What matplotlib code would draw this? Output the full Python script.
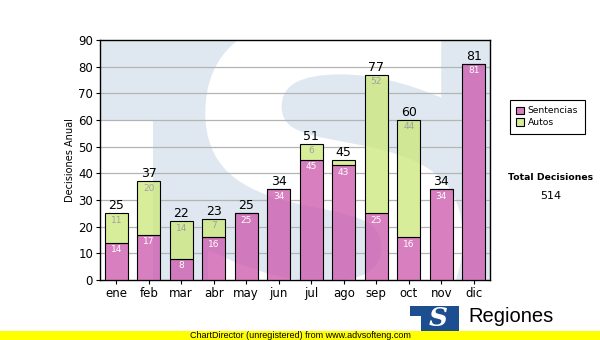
import numpy as np
import matplotlib.pyplot as plt
from matplotlib.patches import Rectangle, PathPatch
from matplotlib.collections import LineCollection
from matplotlib.textpath import TextPath
from matplotlib.font_manager import FontProperties
from matplotlib.transforms import Affine2D

meses = ['ene', 'feb', 'mar', 'abr', 'may', 'jun', 'jul', 'ago', 'sep', 'oct', 'nov', 'dic']
sentencias = [14, 17, 8, 16, 25, 34, 45, 43, 25, 16, 34, 81]
autos = [11, 20, 14, 7, 0, 0, 6, 2, 52, 44, 0, 0]

W, H = 600, 340
rosa = (0.80, 0.33, 0.67, 0.75)
verde = (0.80, 0.91, 0.47, 0.75)


def fx(px):
    return px / W


def fy(py):
    return 1 - py / H


fig = plt.figure(figsize=(6, 3.4), dpi=100)
fig.patch.set_facecolor('white')

ax = fig.add_axes([fx(100), fy(280), fx(490) - fx(100), fy(40) - fy(280)])
ax.set_facecolor('#dfe8f1')

# fondo con el logo "S" en marca de agua
ax.add_patch(Rectangle((0, 0), 53 / 390, 160 / 240, transform=ax.transAxes,
                       facecolor='white', lw=0, zorder=0.1))
tp = TextPath((0, 0), 'S', prop=FontProperties(family='DejaVu Sans', weight='bold'))
ext = tp.get_extents()
x0, y0, x1, y1 = 0.27, -0.25, 0.93, 1.1
tr = (Affine2D().translate(-ext.x0, -ext.y0)
      .scale((x1 - x0) / ext.width, (y1 - y0) / ext.height)
      .translate(x0, y0) + ax.transAxes)
ax.add_patch(PathPatch(tp, transform=tr, facecolor='white', lw=0, zorder=0.2))

x = np.arange(len(meses))
ancho = 0.71
totales = [s + a for s, a in zip(sentencias, autos)]

# rejilla horizontal solo fuera de las barras
segs = []
for yv in range(10, 90, 10):
    ini = -0.5
    for i in x:
        if totales[i] > yv:
            segs.append([(ini, yv), (i - ancho / 2, yv)])
            ini = i + ancho / 2
    segs.append([(ini, yv), (len(meses) - 0.5, yv)])
ax.add_collection(LineCollection(segs, colors='#b4b4b4', linewidths=0.9, zorder=1))

b1 = ax.bar(x, sentencias, ancho, color=rosa, edgecolor='black', lw=0.8, zorder=3)
b2 = ax.bar(x, autos, ancho, bottom=sentencias, color=verde, edgecolor='black', lw=0.8, zorder=3)

for i in range(len(meses)):
    s, a = sentencias[i], autos[i]
    if s > 0:
        ax.annotate(str(s), (x[i], s), xytext=(0, -7), textcoords='offset pixels',
                    ha='center', va='center', fontsize=6.5, color='white', zorder=4)
    if a > 2:
        ax.annotate(str(a), (x[i], s + a), xytext=(0, -7), textcoords='offset pixels',
                    ha='center', va='center', fontsize=6.5, color='#a0a0a0', zorder=4)
    ax.annotate(str(totales[i]), (x[i], totales[i]), xytext=(0, 1), textcoords='offset pixels',
                ha='center', va='bottom', fontsize=9, color='black', zorder=4)

ax.set_xlim(-0.5, len(meses) - 0.5)
ax.set_ylim(0, 90)
ax.set_yticks(range(0, 91, 10))
ax.set_xticks(x)
ax.set_xticklabels(meses)
ax.tick_params(axis='both', labelsize=8.5, length=3, width=0.8, pad=2, color='black')
for sp in ax.spines.values():
    sp.set_color('black')
    sp.set_linewidth(1)
ax.set_ylabel('Decisiones Anual', fontsize=7, labelpad=2)

leg = fig.legend(handles=[b1, b2], labels=['Sentencias', 'Autos'], loc='upper left',
                 bbox_to_anchor=(fx(510), fy(100)), frameon=True, fancybox=False,
                 edgecolor='black', framealpha=1, fontsize=6.6, handlelength=0.85,
                 handleheight=0.85, handletextpad=0.4, borderpad=0.7,
                 labelspacing=0.3, borderaxespad=0)
leg.get_frame().set_linewidth(0.8)

fig.text(fx(551), fy(177), 'Total Decisiones', ha='center', va='center',
         fontsize=6.7, fontweight='bold')
fig.text(fx(551), fy(196), str(sum(totales)), ha='center', va='center', fontsize=8)

# logo inferior
fig.add_artist(Rectangle((fx(410), 0), fx(459) - fx(410), fy(306), transform=fig.transFigure,
                         facecolor='#1d4e8f', lw=0, zorder=2))
fig.add_artist(Rectangle((fx(410), 0), fx(421) - fx(410), fy(316), transform=fig.transFigure,
                         facecolor='white', lw=0, zorder=2.1))
fig.text(fx(438), fy(319), 'S', ha='center', va='center', fontsize=19, color='white',
         family='DejaVu Serif', fontweight='bold', style='italic', zorder=3)
fig.text(fx(468), fy(322), 'Regiones', ha='left', va='baseline', fontsize=14.5,
         family='Liberation Sans', zorder=3)
fig.text(fx(468), fy(336), 'Tribunal Supremo de Justicia', ha='left', va='baseline',
         fontsize=6, family='Liberation Sans', zorder=3)

# barra amarilla
fig.add_artist(Rectangle((0, 0), 1, 9 / H, transform=fig.transFigure,
                         facecolor='#ffff00', lw=0, zorder=5))
fig.text(0.5, 4.5 / H, 'ChartDirector (unregistered) from www.advsofteng.com', ha='center',
         va='center', fontsize=6.5, family='Liberation Sans', zorder=6)

fig.savefig('out.png', dpi=100)
